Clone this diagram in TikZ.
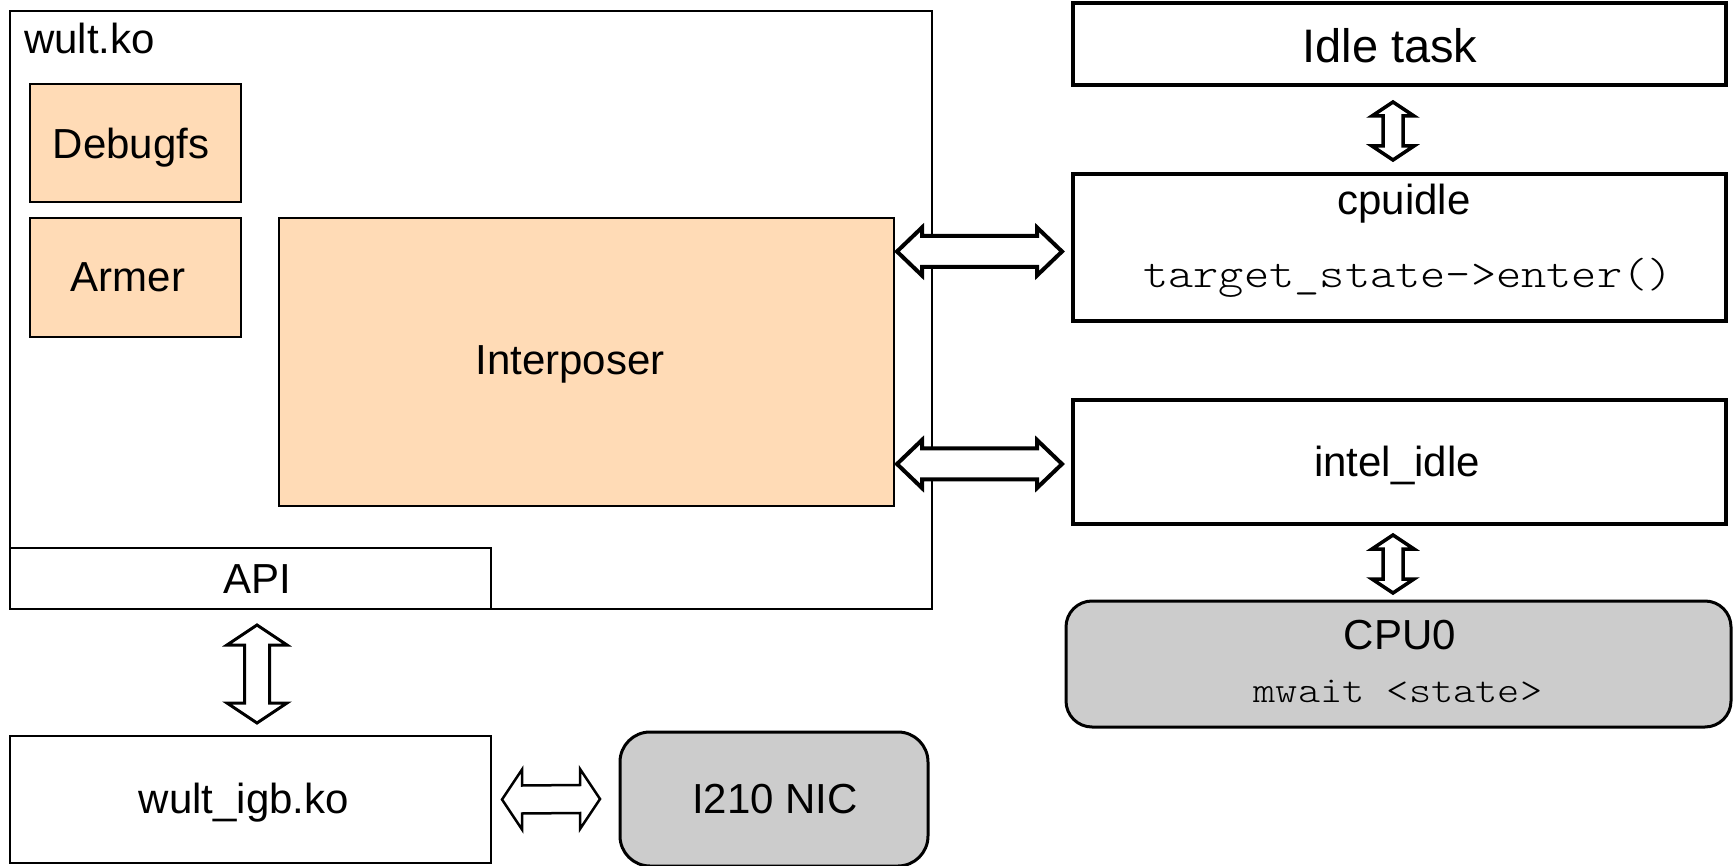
\documentclass[tikz,border=0pt]{standalone}
\usepackage{fontspec}
\setmainfont{Liberation Sans}
\newfontfamily\thinmono{lmmonolt10-regular.otf}[FakeStretch=1.143]
\usetikzlibrary{calc}
\definecolor{peach}{HTML}{FFDBB6}
\definecolor{chip}{HTML}{CCCCCC}

% Horizontal block arrow with heads at both ends:
% [opts]{left tip}{right tip}{half shaft}{half head}{head length}
\newcommand\hdblarrow[6][]{%
  \filldraw[blockarrow,#1] (#2) -- ($(#2)+(#6,-#5)$) -- ($(#2)+(#6,-#4)$)
    -- ($(#3)+(-#6,-#4)$) -- ($(#3)+(-#6,-#5)$) -- (#3)
    -- ($(#3)+(-#6,#5)$) -- ($(#3)+(-#6,#4)$)
    -- ($(#2)+(#6,#4)$) -- ($(#2)+(#6,#5)$) -- cycle;}
% Vertical block arrow with heads at both ends:
% [opts]{top tip}{bottom tip}{half shaft}{half head}{head length}
\newcommand\vdblarrow[6][]{%
  \filldraw[blockarrow,#1] (#2) -- ($(#2)+(-#5,#6)$) -- ($(#2)+(-#4,#6)$)
    -- ($(#3)+(-#4,-#6)$) -- ($(#3)+(-#5,-#6)$) -- (#3)
    -- ($(#3)+(#5,-#6)$) -- ($(#3)+(#4,-#6)$)
    -- ($(#2)+(#4,#6)$) -- ($(#2)+(#5,#6)$) -- cycle;}

\tikzset{
  thinbox/.style={draw, line width=1.5pt, inner sep=0pt, outer sep=0pt, anchor=north west},
  thickbox/.style={draw, line width=3.5pt, inner sep=0pt, outer sep=0pt, anchor=north west},
  part/.style={thinbox, fill=peach},
  chipbox/.style={draw, line width=3pt, fill=chip, rounded corners=26pt,
    inner sep=0pt, outer sep=0pt, anchor=north west},
  lbl/.style={font=\fontsize{42}{50}\selectfont, inner sep=0pt, anchor=base},
  code/.style={font=\thinmono\fontsize{42}{50}\selectfont, inner sep=0pt, anchor=base},
  blockarrow/.style={draw=black, fill=white, line width=4pt, line join=miter},
}

\begin{document}
\begin{tikzpicture}[x=1pt,y=-1pt]
\useasboundingbox[fill=white] (0,0) rectangle (1733,866);

% kernel module and its parts
\node[thinbox, minimum width=922pt, minimum height=598pt] (wult) at (10,11) {};
\node[part, minimum width=211pt, minimum height=118pt] (debugfs) at (30,84) {};
\node[part, minimum width=211pt, minimum height=119pt] (armer) at (30,218) {};
\node[part, minimum width=615pt, minimum height=288pt] (interp) at (279,218) {};
\node[thinbox, fill=white, minimum width=481pt, minimum height=61pt] (api) at (10,548) {};

% driver and NIC
\node[thinbox, minimum width=481pt, minimum height=127pt] (igb) at (10,736) {};
\node[chipbox, rounded corners=30pt, minimum width=308pt, minimum height=134pt] (nic) at (620,732) {};

% idle path
\node[thickbox, minimum width=653pt, minimum height=82pt] (idle) at (1073,3) {};
\node[thickbox, minimum width=653pt, minimum height=147pt] (cpuidle) at (1073,174) {};
\node[thickbox, minimum width=653pt, minimum height=124pt] (intel) at (1073,400) {};
\node[chipbox, minimum width=665pt, minimum height=126pt] (cpu) at (1066,601) {};

% labels
\node[lbl, anchor=base west] (twult) at (24,54) {wult.ko};
\node[lbl] (tdebugfs) at (131,159) {Debugfs};
\node[lbl] (tarmer) at (128,292) {Armer};
\node[lbl] (tinterp) at (570,375) {Interposer};
\node[lbl] (tapi) at (257,593) {API};
\node[lbl] (tigb) at (244,813) {wult\_igb.ko};
\node[lbl] (tnic) at (775,813) {I210 NIC};
\node[lbl, font=\fontsize{47}{54}\selectfont] (tidle) at (1390,63) {Idle task};
\node[lbl] (tcpuidle) at (1404,215) {cpuidle};
\node[code] (tenter) at (1408,288) {target\_state->enter()};
\node[lbl] (tintel) at (1397,477) {intel\_idle};
\node[lbl] (tcpu) at (1400,649) {CPU0};
\node[code, font=\thinmono\fontsize{37}{44}\selectfont] (tmwait) at (1398,702) {mwait <state>};

% connector end points
\coordinate (a1l) at ($(interp.east |- cpuidle.west)+(3,4)$);
\coordinate (a1r) at ($(cpuidle.west)+(-11,4)$);
\coordinate (a2l) at ($(interp.east |- intel.west)+(3,2)$);
\coordinate (a2r) at ($(intel.west)+(-11,2)$);
\coordinate (v1t) at ($(idle.south)+(-6.5,17)$);
\coordinate (v1b) at ($(cpuidle.north)+(-6.5,-14)$);
\coordinate (v2t) at ($(intel.south)+(-6.5,11)$);
\coordinate (v2b) at ($(cpu.north)+(-5.5,-8)$);
\coordinate (v3t) at ($(api.south)+(6.5,16)$);
\coordinate (v3b) at ($(igb.north)+(6.5,-13)$);
\coordinate (h3l) at ($(igb.east)+(11,0)$);
\coordinate (h3r) at ($(nic.west)+(-20,0)$);

% connectors
\hdblarrow{a1l}{a1r}{15.5}{24}{25}
\hdblarrow{a2l}{a2r}{15.5}{24}{25}
\vdblarrow[line width=3.5pt]{v1t}{v1b}{10}{21}{14}
\vdblarrow[line width=3.5pt]{v2t}{v2b}{10}{21}{14}
\vdblarrow[line width=3pt]{v3t}{v3b}{12.5}{30}{20}
\hdblarrow[line width=2.5pt]{h3l}{h3r}{14}{30}{20}
\end{tikzpicture}
\end{document}
